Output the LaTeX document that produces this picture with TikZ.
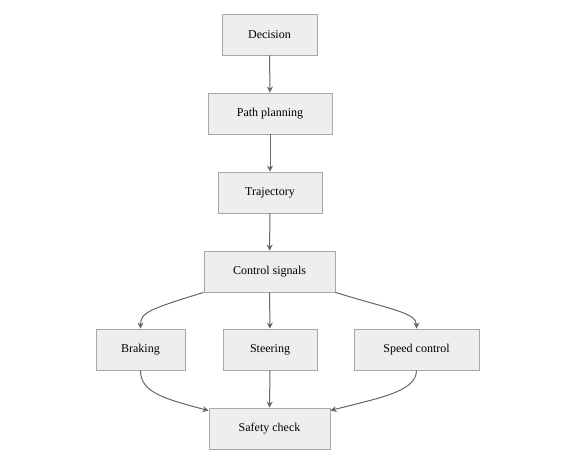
\documentclass[tikz,border=0pt]{standalone}
\usepackage{fontspec}
\setmainfont{Liberation Serif}
\usetikzlibrary{arrows.meta}
\definecolor{boxfill}{HTML}{EEEEEE}
\definecolor{boxline}{HTML}{A8A8A8}
\definecolor{arrowcol}{HTML}{666666}
\begin{document}
\begin{tikzpicture}[x=1pt,y=-1pt,
  box/.style={draw=boxline,fill=boxfill,line width=0.8pt,minimum height=41pt,inner sep=0pt,font=\fontsize{12}{14}\selectfont,text=black},
  conn/.style={draw=arrowcol,line width=1pt,-{Stealth[length=6pt,width=6pt]}}]
\useasboundingbox[fill=white] (0,0) rectangle (576,464);
\node[box,minimum width=95pt]  (dec)   at (269.5,34.5) {Decision};
\node[box,minimum width=124pt] (path)  at (270,113.5) {Path planning};
\node[box,minimum width=104pt] (traj)  at (270,192.5) {Trajectory};
\node[box,minimum width=131pt] (ctrl)  at (269.5,271.5) {Control signals};
\node[box,minimum width=89pt]  (brake) at (140.5,349.5) {Braking};
\node[box,minimum width=94pt]  (steer) at (270,349.5) {Steering};
\node[box,minimum width=125pt] (speed) at (416.5,349.5) {Speed control};
\node[box,minimum width=121pt] (safe)  at (269.5,428.5) {Safety check};
\draw[conn] (dec) -- (path);
\draw[conn] (path) -- (traj);
\draw[conn] (traj) -- (ctrl);
\draw[conn] (ctrl) -- (steer);
\draw[conn] (ctrl.south west) .. controls +(-55,17) and +(0,-16) .. (brake.north);
\draw[conn] (ctrl.south east) .. controls +(55,17) and +(0,-16) .. (speed.north);
\draw[conn] (steer) -- (safe);
\draw[conn] (brake.south) .. controls +(0,22) and +(-45,-12) .. ([yshift=-3pt]safe.north west);
\draw[conn] (speed.south) .. controls +(0,22) and +(45,-12) .. ([yshift=-3pt]safe.north east);
\end{tikzpicture}
\end{document}
